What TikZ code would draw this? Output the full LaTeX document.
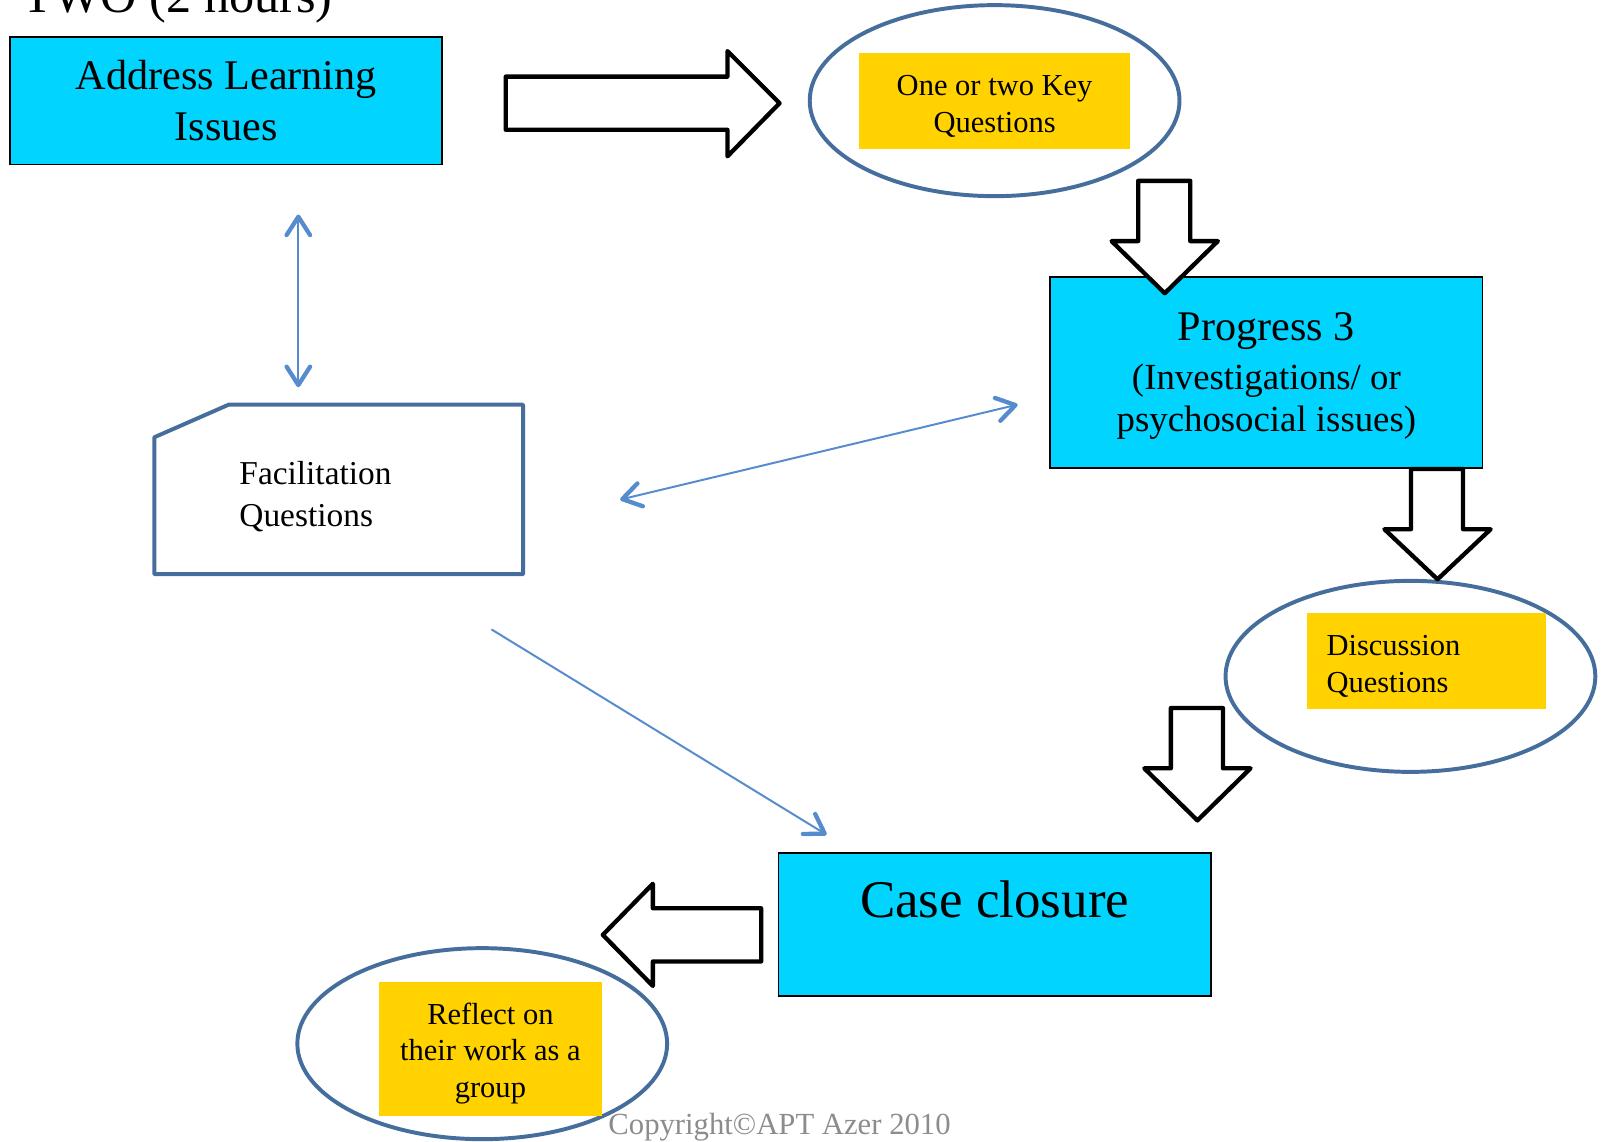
\documentclass[tikz,border=0pt]{standalone}
\usepackage{fontspec}
\setmainfont{Liberation Serif}
\usetikzlibrary{shapes.geometric,arrows.meta}
\definecolor{boxcyan}{RGB}{0,212,255}
\definecolor{keyyellow}{RGB}{255,210,0}
\definecolor{ringblue}{RGB}{70,110,157}
\definecolor{linkblue}{RGB}{86,140,205}
\definecolor{copygray}{RGB}{140,140,140}
\tikzset{
  stagebox/.style={draw=black,line width=1pt,fill=boxcyan,minimum width=8.46cm,align=center,inner sep=0pt},
  keybox/.style={fill=keyyellow,inner sep=0pt},
  keytext/.style={inner sep=0pt,align=center,font=\fontsize{17}{20.5}\selectfont},
  ring/.style={draw=ringblue,line width=2.2pt,ellipse,minimum width=7.24cm,minimum height=3.74cm,inner sep=0pt},
  blockarrow/.style={draw=black,line width=2.4pt,fill=white,line join=round},
  link/.style={draw=linkblue,line width=1.1pt,>={Straight Barb[length=3.6mm,width=4.6mm,line width=2.4pt,round]}}
}

\begin{document}
\begin{tikzpicture}[x=0.02cm,y=-0.02cm]
  \useasboundingbox (0,0) rectangle (1568,1117);
  %%%%% title (cut at the top) %%%%%
  \node[anchor=base west,inner sep=0pt,font=\fontsize{28}{33}\selectfont] (title) at (22,12) {TWO (2 hours)};

  %%%%% boxes %%%%%
  \node[stagebox,minimum height=2.5cm,font=\fontsize{23.5}{28}\selectfont] (address) at (221.5,98.5) {Address Learning\\Issues};
  \node[stagebox,minimum height=3.74cm] (progress) at (1239.5,364.5) {};
  \node[inner sep=0pt,align=center,font=\fontsize{20.5}{23.3}\selectfont] (progresstext) at (1239.5,368)
    {{\fontsize{23.5}{28}\selectfont Progress 3}\\[4pt](Investigations/ or\\psychosocial issues)};
  \node[stagebox,minimum height=2.8cm] (closure) at (973.5,905) {};
  \node[inner sep=0pt,font=\fontsize{29.5}{35}\selectfont] (closuretext) at (973.5,880) {Case closure};

  %%%%% rings with key questions %%%%%
  \node[ring] (keyring) at (973.5,98.5) {};
  \node[keybox,minimum width=5.3cm,minimum height=1.88cm] (keyq) at (973.5,99) {};
  \node[keytext] (keyqtext) at (973.5,104) {One or two Key\\Questions};

  \node[ring] (discring) at (1380.5,662) {};
  \node[keybox,minimum width=4.68cm,minimum height=1.88cm] (discq) at (1396,647) {};
  \node[keytext,anchor=west,align=left] (discqtext) at (1298,652) {Discussion\\Questions};

  \node[ring] (reflring) at (472,1021.5) {};
  \node[keybox,minimum width=4.36cm,minimum height=2.62cm] (reflq) at (480,1026.5) {};
  \node[keytext] (reflqtext) at (480,1031) {Reflect on\\their work as a\\group};

  %%%%% facilitation card %%%%%
  \draw[draw=ringblue,line width=2.2pt,line join=round] (151,428) -- (224,396) -- (512,396) -- (512,562) -- (151,562) -- cycle;
  \node[anchor=west,inner sep=0pt,align=left,font=\fontsize{18.6}{23.8}\selectfont] (facq) at (234,486) {Facilitation\\Questions};

  %%%%% block arrows %%%%%
  \draw[blockarrow] (495,75) -- (712,75) -- (712,50) -- (763,101) -- (712,153) -- (712,127) -- (495,127) -- cycle;
  \draw[blockarrow] (1114,177) -- (1165,177) -- (1165,236) -- (1192,236) -- (1140,287) -- (1088,236) -- (1114,236) -- cycle;
  \draw[blockarrow] (1381,459) -- (1432,459) -- (1432,518) -- (1459,518) -- (1407,567) -- (1355,518) -- (1381,518) -- cycle;
  \draw[blockarrow] (1146,693) -- (1197,693) -- (1197,752) -- (1224,752) -- (1172,803) -- (1120,752) -- (1146,752) -- cycle;
  \draw[blockarrow] (745,889) -- (745,941) -- (639,941) -- (639,965) -- (590,915) -- (639,865) -- (639,889) -- cycle;

  %%%%% thin links %%%%%
  \coordinate (linkup) at (292,210);
  \coordinate (linkdown) at (292,379);
  \coordinate (linkleft) at (607,489);
  \coordinate (linkright) at (996,396);
  \coordinate (linkfrom) at (481,616);
  \coordinate (linkto) at (809,817);
  \draw[link,<->] (linkup) -- (linkdown);
  \draw[link,<->] (linkleft) -- (linkright);
  \draw[link,->] (linkfrom) -- (linkto);

  %%%%% footer %%%%%
  \node[anchor=base,inner sep=0pt,text=copygray,font=\fontsize{17.1}{20}\selectfont] (copy) at (763,1110) {Copyright©APT Azer 2010};
\end{tikzpicture}
\end{document}
